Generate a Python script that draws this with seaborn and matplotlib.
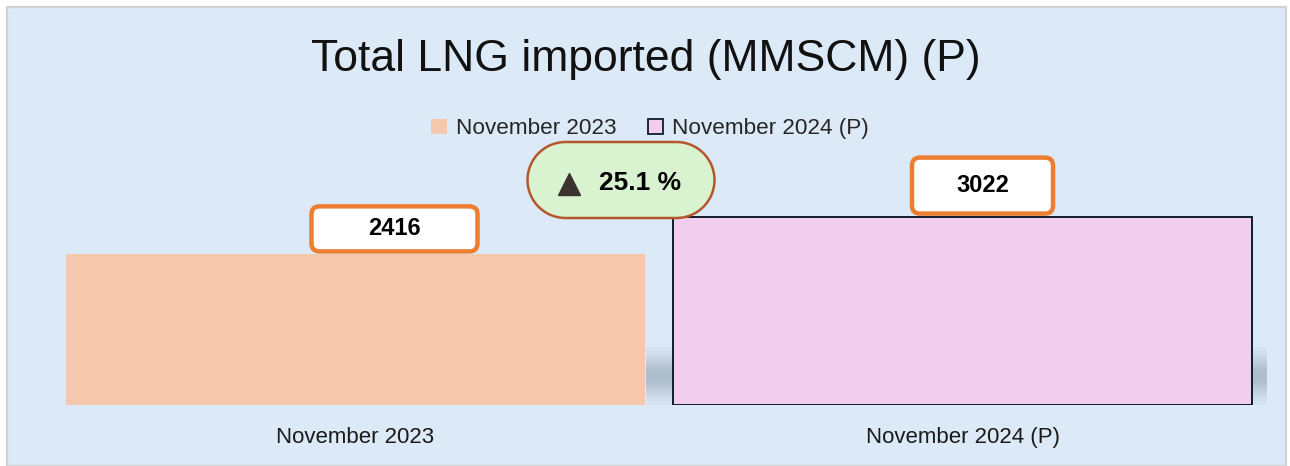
import numpy as np
import seaborn as sns
import matplotlib.pyplot as plt
from matplotlib.patches import FancyBboxPatch, Rectangle, Patch, PathPatch
from matplotlib.path import Path
from matplotlib.lines import Line2D
from matplotlib.transforms import IdentityTransform, ScaledTranslation

# données
categories = ["November 2023", "November 2024 (P)"]
values = [2416, 3022]
growth_pct = 25.1
title = "Total LNG imported (MMSCM) (P)"

bar_colors = ["#f5c7ac", "#f1cdee"]
W, H = 1290, 466

sns.set_style("white")
plt.rcParams["font.family"] = ["Liberation Sans", "DejaVu Sans"]

fig = plt.figure(figsize=(W / 100, H / 100), dpi=100, facecolor="white")

# fond du panneau (pixels)
fig.add_artist(Rectangle((7, 0), 1279, 459, transform=IdentityTransform(),
                         facecolor="#dce9f6", edgecolor="#d2d2d2", linewidth=1.6, zorder=0))

ax = fig.add_axes([52 / W, 1 - 405 / H, (1266 - 52) / W, (405 - 150) / H])
ax.set_facecolor("none")

bar_w = 0.954
sns.barplot(x=categories, y=values, hue=categories, palette=bar_colors, width=bar_w,
            saturation=1, legend=False, ax=ax, zorder=3)
ax.patches[0].set_edgecolor("none")
ax.patches[1].set_edgecolor("#0f1c2c")
ax.patches[1].set_linewidth(1.4)

ymax = 255 * 16.04
# ombre grise sous la 2e barre (dégradé)
prof = np.linspace(0, 1, 80)
alpha = np.exp(-((prof - 0.5) / 0.34) ** 2) * 0.58
img = np.zeros((80, 1, 4))
img[:, 0, :3] = np.array([140, 156, 170]) / 255
img[:, 0, 3] = alpha
ax.imshow(img, extent=(1 - bar_w / 2 - 0.045, 1 + bar_w / 2 + 0.027, 0, 58 * 16.04),
          origin="lower", aspect="auto", zorder=1, interpolation="bilinear")

ax.set_xlim(-0.5, 1.5)
ax.set_ylim(0, ymax)
sns.despine(ax=ax, left=True, bottom=True)
ax.set_yticks([])
ax.set_xlabel("")
ax.set_ylabel("")
ax.tick_params(axis="x", length=0, pad=16, labelsize=16, labelcolor="#1a1a1a")

# étiquettes de valeur
box_w = [166, 141]
box_h = [45, 56]
box_dx = [39, 20]
for i, v in enumerate(values):
    tr = ScaledTranslation(i, v, ax.transData)
    ax.add_artist(FancyBboxPatch((box_dx[i] - box_w[i] / 2, 3), box_w[i], box_h[i],
                                 boxstyle="round,pad=0,rounding_size=8", transform=tr,
                                 facecolor="white", edgecolor="#ed7d31", linewidth=3.2,
                                 zorder=5, clip_on=False))
    ax.annotate(f"{v}", (i, v), xytext=(box_dx[i], 3 + box_h[i] / 2), textcoords="offset pixels",
                ha="center", va="center", fontsize=17, fontweight="bold", color="black",
                zorder=6, annotation_clip=False)

# badge de croissance (forme de stade)
cx, cy, bw, bh = 621, H - 180, 187, 76
r = bh / 2
t = np.linspace(-np.pi / 2, np.pi / 2, 40)
right = np.column_stack([cx + bw / 2 - r + r * np.cos(t), cy + r * np.sin(t)])
left = np.column_stack([cx - bw / 2 + r - r * np.cos(t), cy - r * np.sin(t)])
verts = np.vstack([right, left, right[:1]])
codes = [Path.MOVETO] + [Path.LINETO] * (len(verts) - 2) + [Path.CLOSEPOLY]
fig.add_artist(PathPatch(Path(verts, codes), transform=IdentityTransform(),
                         facecolor="#d9f2d0", edgecolor="#b4582c", linewidth=1.8, zorder=7))
fig.add_artist(Line2D([569 / W], [1 - 184 / H], marker="^", markersize=16, color="#3a3330",
                      linestyle="none", zorder=8))
fig.text(640 / W, 1 - 183 / H, f"{growth_pct} %", ha="center", va="center", fontsize=19,
         fontweight="bold", color="black", zorder=8)

# titre et légende
fig.text(646 / W, 1 - 60 / H, title, ha="center", va="center", fontsize=32, color="#111111")
handles = [Patch(facecolor=bar_colors[0], edgecolor="none"),
           Patch(facecolor=bar_colors[1], edgecolor="#0f1c2c", linewidth=1.3)]
fig.legend(handles, categories, loc="center", bbox_to_anchor=(650 / W, 1 - 129 / H), ncol=2,
           frameon=False, fontsize=16.2, handlelength=0.67, handleheight=0.63,
           handletextpad=0.4, columnspacing=1.4)

fig.savefig("out.png", dpi=100, facecolor="white")
